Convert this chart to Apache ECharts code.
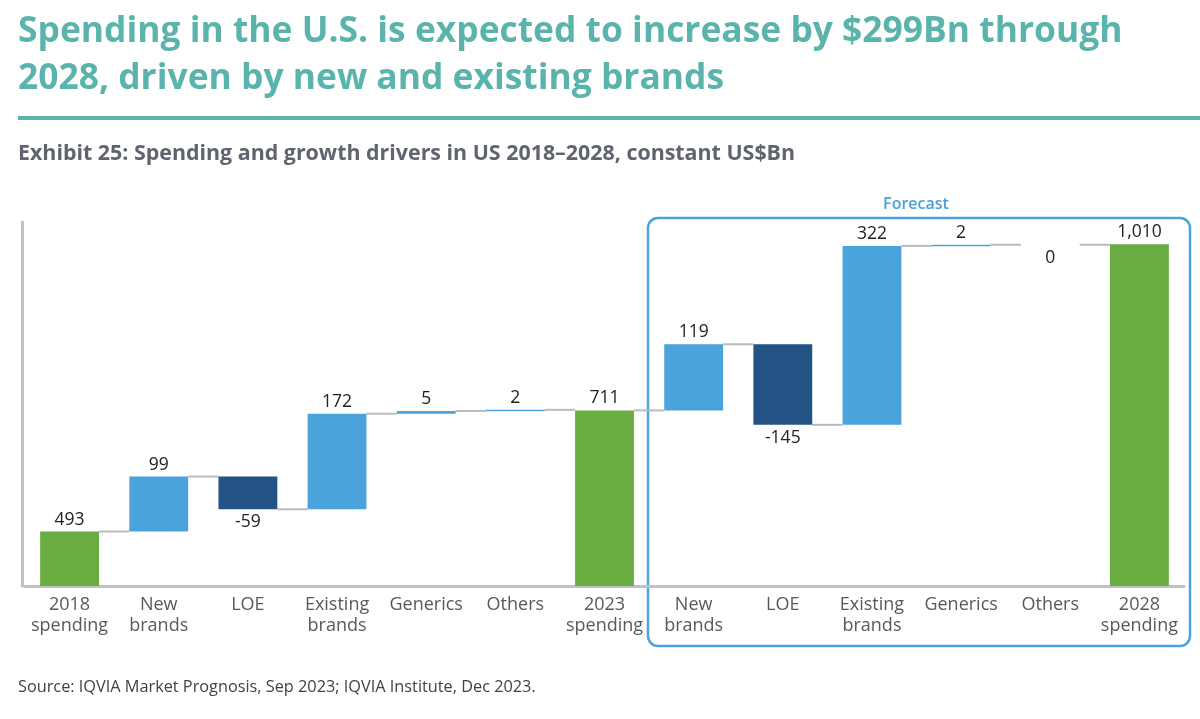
<!DOCTYPE html>
<html>
<head>
<meta charset="utf-8">
<script src="https://cdn.jsdelivr.net/npm/echarts@6/dist/echarts.min.js"></script>
<style>html,body{margin:0;padding:0;background:#fff}#c{width:1200px;height:719px}</style>
</head>
<body>
<div id="c"></div>
<script>
const categories = ['2018\nspending','New\nbrands','LOE','Existing\nbrands','Generics','Others','2023\nspending','New\nbrands','LOE','Existing\nbrands','Generics','Others','2028\nspending'];
const values = [493, 99, -59, 172, 5, 2, 711, 119, -145, 322, 2, 0, 1010];
const kinds = ['total','delta','delta','delta','delta','delta','total','delta','delta','delta','delta','delta','total'];
const valueLabels = ['493','99','-59','172','5','2','711','119','-145','322','2','0','1,010'];

const FONT = '"Open Sans", "Noto Sans", sans-serif';
const Y_MIN = 395, Y_MAX = 1050;
const COLORS = {total:'#69ac42', up:'#4ba3db', down:'#235285'};

// build waterfall data [index, start, end, kind]
let running = 0;
const data = values.map((v, i) => {
  let start, end, k;
  if (kinds[i] === 'total') { start = Y_MIN; end = v; running = v; k = 'total'; }
  else { start = running; end = running + v; running = end; k = v < 0 ? 'down' : (v === 0 ? 'zero' : 'up'); }
  return [i, start, end, k];
});

function renderItem(params, api) {
  const i = api.value(0);
  const start = api.value(1), end = api.value(2);
  const k = data[params.dataIndex][3];
  const step = api.size([1, 0])[0];
  const w = step * 0.66;
  const p0 = api.coord([i, start]);
  const p1 = api.coord([i, end]);
  const children = [];
  const top = Math.min(p0[1], p1[1]);
  const h = Math.abs(p0[1] - p1[1]);
  if (h > 0) {
    children.push({type:'rect', shape:{x:p0[0]-w/2, y:top, width:w, height:Math.max(h,1.5)}, style:{fill:COLORS[k]}});
  }
  if (params.dataIndex < data.length - 1) {
    const py = api.coord([i, end])[1];
    children.push({type:'line', z2:-1, shape:{x1:p0[0]+w/2, y1:py, x2:p0[0]+step-w/2, y2:py}, style:{stroke:'#b9babd', lineWidth:2}});
  }
  const lbl = valueLabels[params.dataIndex];
  let ly, va;
  if (k === 'down' || k === 'zero') { ly = Math.max(p0[1], p1[1]) + 4; va = 'top'; }
  else { ly = top - 3; va = 'bottom'; }
  children.push({type:'text', style:{text:lbl, x:p0[0], y:ly, align:'center', verticalAlign:va, font:'17.5px ' + FONT, fill:'#222'}});
  return {type:'group', children};
}

const chart = echarts.init(document.getElementById('c'));
chart.setOption({
  animation: false,
  grid: {left: 25, right: 16, top: 222, bottom: 133},
  xAxis: {
    type: 'category', data: categories,
    axisLine: {lineStyle: {color: '#bfc0c4', width: 3}},
    axisTick: {show: false},
    axisLabel: {interval: 0, fontSize: 18, lineHeight: 21, color: '#555a61', margin: 8, fontFamily: FONT}
  },
  yAxis: {
    type: 'value', min: Y_MIN, max: Y_MAX, offset: 3,
    axisLine: {show: true, lineStyle: {color: '#bfc0c4', width: 3}},
    axisLabel: {show: false}, axisTick: {show: false}, splitLine: {show: false}
  },
  graphic: [
    {type:'text', left:18, top:8, style:{text:'Spending in the U.S. is expected to increase by $299Bn through\n2028, driven by new and existing brands', font:'bold 35.4px ' + FONT, lineHeight:47, fill:'#5ab4ac'}},
    {type:'rect', shape:{x:18, y:116, width:1182, height:4}, style:{fill:'#5ab4ac'}},
    {type:'text', left:18, top:143, style:{text:'Exhibit 25: Spending and growth drivers in US 2018–2028, constant US$Bn', font:'bold 21.4px ' + FONT, fill:'#60646f'}},
    {type:'rect', shape:{x:648, y:218, width:542, height:428, r:10}, style:{fill:'none', stroke:'#4ba3db', lineWidth:2.5}},
    {type:'text', x:916, y:204, style:{text:'Forecast', align:'center', verticalAlign:'middle', font:'600 16px ' + FONT, fill:'#4a9fd8'}},
    {type:'text', left:18, top:679, style:{text:'Source: IQVIA Market Prognosis, Sep 2023; IQVIA Institute, Dec 2023.', font:'16.3px ' + FONT, fill:'#3f4246'}}
  ],
  series: [{type: 'custom', renderItem, data, encode: {x: 0, y: [1, 2]}}]
});
</script>
</body>
</html>
